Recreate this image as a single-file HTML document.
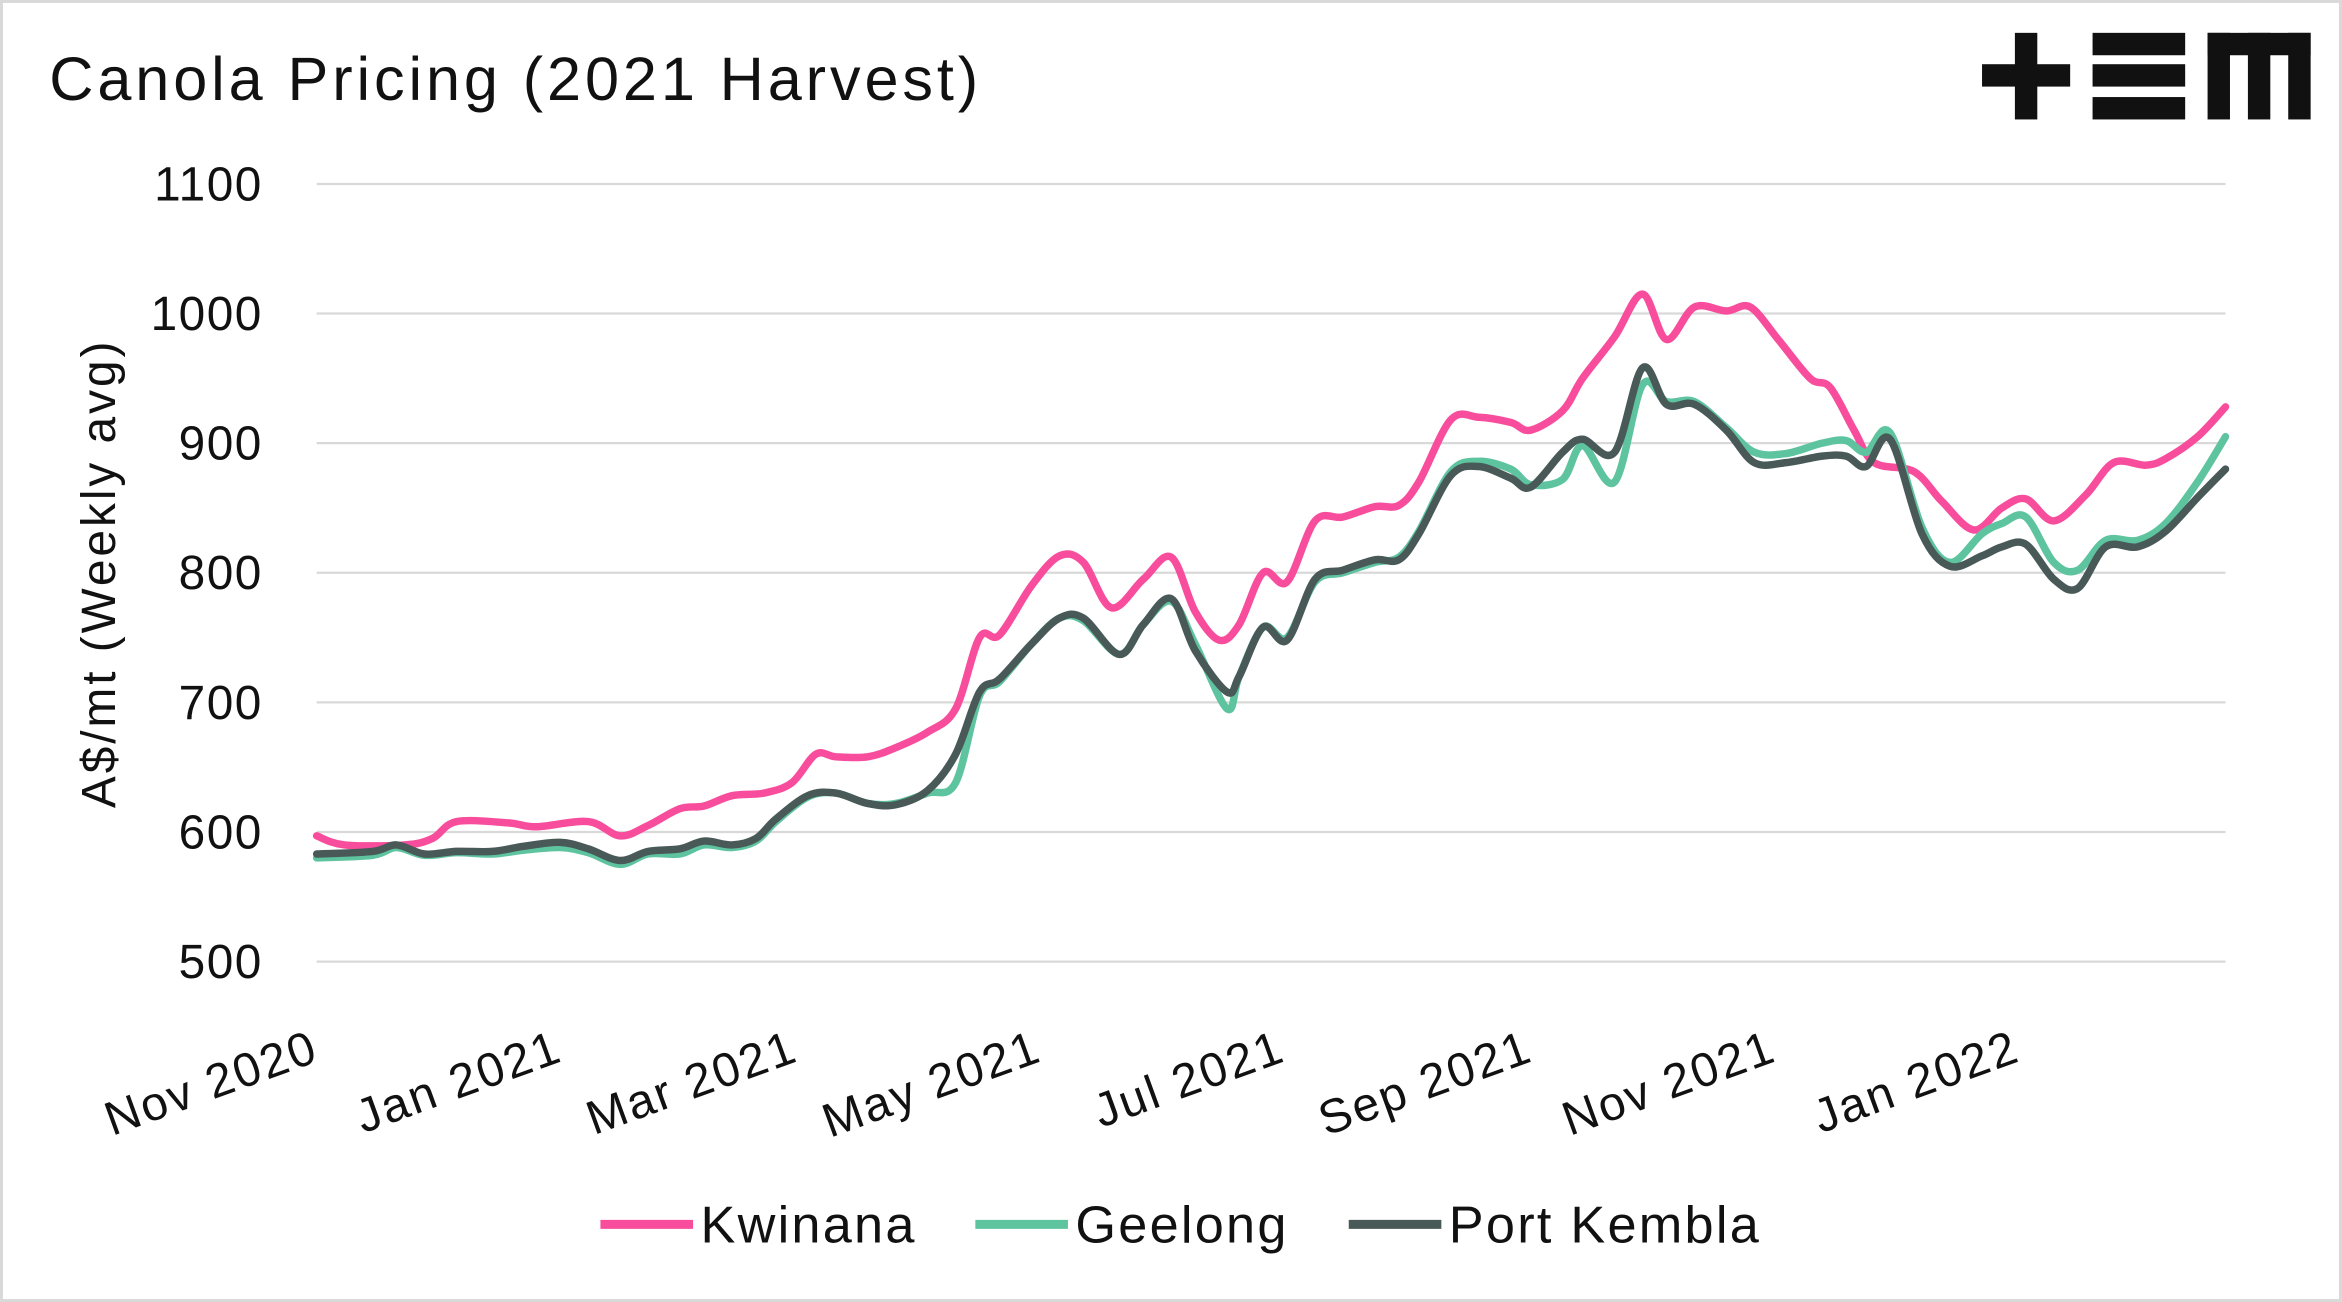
<!DOCTYPE html>
<html><head><meta charset="utf-8"><style>
html,body{margin:0;padding:0;background:#fff;}
svg{display:block;font-family:"Liberation Sans",sans-serif;}
</style></head><body>
<svg id="chart" width="2342" height="1302" viewBox="0 0 1568 872" preserveAspectRatio="none">
<rect x="1" y="1" width="1566" height="870" fill="#fff" stroke="#d9d9d9" stroke-width="2"/>
<text x="33" y="67" font-size="41" letter-spacing="2.6" fill="#111">Canola Pricing (2021 Harvest)</text>
<g fill="#111">
<rect x="1327" y="43" width="59" height="15"/><rect x="1349" y="22" width="15" height="58"/>
<rect x="1401" y="22" width="62" height="15"/><rect x="1401" y="43" width="62" height="15"/><rect x="1401" y="65" width="62" height="15"/>
<rect x="1478" y="22" width="69" height="15"/><rect x="1478" y="22" width="15" height="58"/><rect x="1505" y="22" width="15" height="58"/><rect x="1532" y="22" width="15" height="58"/>
</g>
<g id="grid"></g><g id="yticks"></g><g id="xticks"></g><g id="series"></g>
<text transform="translate(77,384) rotate(-90)" text-anchor="middle" font-size="32" letter-spacing="2" fill="#111">A$/mt (Weekly avg)</text>
<g id="legend"></g>
</svg>
<script>
const yTicks=[500,600,700,800,900,1000,1100];
const xTickLabels=["Nov 2020","Jan 2021","Mar 2021","May 2021","Jul 2021","Sep 2021","Nov 2021","Jan 2022"];
const xTickDays=[0,61,120,181,242,304,365,426];
const kwDays=[0,7,22,29,35,48,55,68,76,83,91,97,104,112,119,125,130,138,145,153,160,166,171,179,186,192,199,207,214,220,226,231,237,243,250,257,265,271,276,284,291,299,304,312,317,325,332,338,345,353,359,366,374,379,385,390,400,407,415,422,428,435,443,450,458,463,471,478];
const kwinana=[597,590,590,595,608,607,604,608,597,605,618,620,628,630,638,660,658,658,665,677,695,750,752,790,813,808,773,795,812,770,748,760,800,793,840,843,851,852,870,918,920,916,910,925,950,982,1015,980,1005,1002,1005,980,950,943,910,885,878,855,833,850,857,840,860,885,883,888,905,928];
const pkDays=[0,14,20,27,35,44,52,61,68,76,83,91,97,104,110,115,123,130,138,145,153,160,166,171,179,186,192,201,207,214,220,228,231,237,243,250,257,265,271,276,284,291,299,304,312,317,325,332,338,345,353,360,368,377,383,388,394,402,409,417,422,428,435,441,448,456,463,471,478];
const portKembla=[583,585,590,583,585,585,589,592,587,578,585,587,593,590,595,610,628,630,622,621,632,660,708,718,745,765,765,737,760,780,740,708,720,758,748,795,802,810,810,830,875,882,873,866,893,903,893,958,930,930,910,885,885,890,890,882,903,830,805,813,820,822,795,788,820,820,832,858,880];
const geelong=[580,582,588,582,584,583,586,588,584,575,583,583,590,588,593,608,627,630,622,622,630,638,705,716,745,765,763,737,760,778,745,695,720,758,750,793,800,808,812,832,878,886,880,868,872,898,870,945,932,932,912,893,892,900,902,893,908,835,808,830,838,843,808,802,825,825,838,870,905];

const NS="http://www.w3.org/2000/svg";
const X0=212,X1=1490,D1=478;
const xs=d=>X0+(X1-X0)*d/D1;
const ys=v=>644-(v-500)*0.868;
function mk(t,a,p){const e=document.createElementNS(NS,t);for(const k in a)e.setAttribute(k,a[k]);p.appendChild(e);return e;}
const grid=document.getElementById('grid'),yt=document.getElementById('yticks'),xt=document.getElementById('xticks');
yTicks.forEach(v=>{
 const l=mk('line',{x1:X0,x2:X1,y1:ys(v),y2:ys(v),stroke:'#d9d9d9','stroke-width':1.5},grid);
 
 
 const t=mk('text',{x:176,y:ys(v)+11,'text-anchor':'end','font-size':32,'letter-spacing':1,fill:'#111'},yt);
 t.textContent=v;
 
 
});
xTickLabels.forEach((s,i)=>{
 const x=xs(xTickDays[i]);
 const t=mk('text',{transform:`translate(${x+3},710) rotate(-20)`,'text-anchor':'end','font-size':32,'letter-spacing':1.5,fill:'#111'},xt);
 t.textContent=s;
 
 
});
function pathD(days,vals){
 const p=days.map((d,i)=>[xs(d),ys(vals[i])]);
 let s=`M${p[0][0]},${p[0][1]}`;
 for(let i=0;i<p.length-1;i++){
  const a=p[Math.max(0,i-1)],b=p[i],c=p[i+1],d=p[Math.min(p.length-1,i+2)];
  s+=` C${b[0]+(c[0]-a[0])/6},${b[1]+(c[1]-a[1])/6} ${c[0]-(d[0]-b[0])/6},${c[1]-(d[1]-b[1])/6} ${c[0]},${c[1]}`;
 }
 return s;
}
const sg=document.getElementById('series');
const series=[["kwinana",kwDays,kwinana,"#f84d9c"],["geelong",pkDays,geelong,"#5ec4a0"],["port-kembla",pkDays,portKembla,"#485957"]];
series.forEach(s=>{
 const p=mk('path',{d:pathD(s[1],s[2]),fill:'none',stroke:s[3],'stroke-width':5,'stroke-linejoin':'round','stroke-linecap':'round'},sg);
 
 
});
const lg=document.getElementById('legend');
const leg=[["Kwinana","#f84d9c",402],["Geelong","#5ec4a0",653],["Port Kembla","#485957",903]];
leg.forEach(e=>{
 const g=mk('g',{},lg);
 
 
 mk('line',{x1:e[2],x2:e[2]+62,y1:820,y2:820,stroke:e[1],'stroke-width':6},g);
 const t=mk('text',{x:e[2]+67,y:832,'font-size':35,'letter-spacing':1.5,fill:'#111'},g);
 t.textContent=e[0];
});
</script>
</body></html>
